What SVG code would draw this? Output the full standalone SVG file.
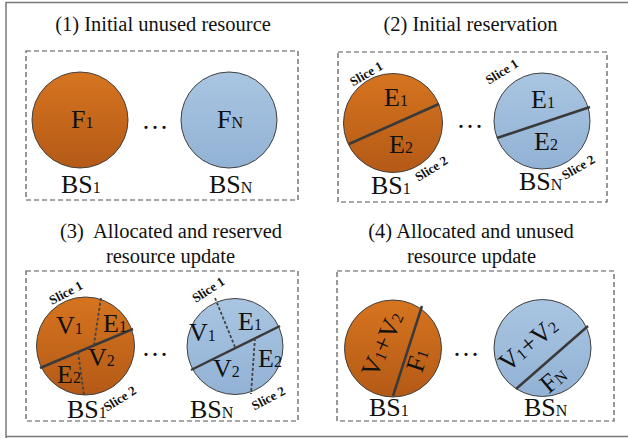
<svg xmlns="http://www.w3.org/2000/svg" width="628" height="438" viewBox="0 0 628 438">
<defs>
<linearGradient id="gO" x1="0" y1="0" x2="0" y2="1"><stop offset="0" stop-color="#D6741F"/><stop offset="1" stop-color="#B45A17"/></linearGradient>
<linearGradient id="gB" x1="0" y1="0" x2="0" y2="1"><stop offset="0" stop-color="#A9C5E1"/><stop offset="1" stop-color="#92B2D5"/></linearGradient>
<style>
text{fill:#111}
.t{font-size:20.5px;text-anchor:middle}
.l{font-size:26px}
.s{font-size:16px}
.sl{font-size:13px;font-weight:bold;text-anchor:middle}
.d{font-size:27px;text-anchor:middle}
.box{fill:none;stroke:#555;stroke-width:1.2;stroke-dasharray:5,3}
.o{fill:url(#gO);stroke:#404040;stroke-width:1}
.b{fill:url(#gB);stroke:#404040;stroke-width:1}
.div{stroke:#3a3a3a;stroke-width:2.5;fill:none}
.dash{stroke:#444;stroke-width:1.8;stroke-dasharray:3,2;fill:none}
</style>
</defs>
<rect width="628" height="438" fill="#fff"/>
<path d="M6 440 V2.5 H630" fill="none" stroke="#7a7a7a" stroke-width="1.5"/>
<path d="M6 436.5 H630" fill="none" stroke="#7a7a7a" stroke-width="1.5"/>
<g font-family="Liberation Serif, Times New Roman, serif">
<!-- Panel 1 -->
<g id="panel1">
<text class="t" x="163" y="31">(1) Initial unused resource</text>
<rect class="box" x="26" y="51" width="272" height="149"/>
<g id="p1-bs1">
<circle class="o" cx="80" cy="120" r="48"/>
<text class="l" x="71" y="128">F<tspan class="s">1</tspan></text>
<text class="l" x="61" y="193">BS<tspan class="s">1</tspan></text>
</g>
<text class="d" x="155" y="129">…</text>
<g id="p1-bsn">
<circle class="b" cx="229" cy="120" r="48"/>
<text class="l" x="217" y="128">F<tspan class="s">N</tspan></text>
<text class="l" x="209" y="193">BS<tspan class="s">N</tspan></text>
</g>
</g>

<!-- Panel 2 -->
<g id="panel2">
<text class="t" x="470.5" y="31">(2) Initial reservation</text>
<rect class="box" x="338" y="52" width="269" height="150"/>
<g id="p2-bs1">
<circle class="o" cx="393" cy="123" r="49.5"/>
<line class="div" x1="349" y1="144" x2="439" y2="104"/>
<text class="l" x="384" y="106">E<tspan class="s">1</tspan></text>
<text class="l" x="389" y="153">E<tspan class="s">2</tspan></text>
<text class="l" x="371" y="194">BS<tspan class="s">1</tspan></text>
<text class="sl" transform="translate(366.5,74) rotate(-30)" y="4">Slice 1</text>
<text class="sl" transform="translate(431.5,169) rotate(-32)" y="4">Slice 2</text>
</g>
<text class="d" x="470" y="128">…</text>
<g id="p2-bsn">
<circle class="b" cx="542" cy="121" r="48"/>
<line class="div" x1="497" y1="138" x2="590" y2="107"/>
<text class="l" x="531" y="108">E<tspan class="s">1</tspan></text>
<text class="l" x="534" y="150">E<tspan class="s">2</tspan></text>
<text class="l" x="519" y="190">BS<tspan class="s">N</tspan></text>
<text class="sl" transform="translate(502,72) rotate(-32)" y="4">Slice 1</text>
<text class="sl" transform="translate(578.5,167.5) rotate(-30)" y="4">Slice 2</text>
</g>
</g>

<!-- Panel 3 -->
<g id="panel3">
<text class="t" x="171" y="238" xml:space="preserve">(3)  Allocated and reserved</text>
<text class="t" x="170.5" y="263">resource update</text>
<rect class="box" x="26" y="271" width="272" height="150"/>
<g id="p3-bs1">
<circle class="o" cx="85.5" cy="346" r="49"/>
<line class="div" x1="40" y1="368" x2="133" y2="329"/>
<line class="dash" x1="101" y1="298" x2="94" y2="344"/>
<line class="dash" x1="78" y1="352" x2="84" y2="395"/>
<text class="l" x="56" y="334">V<tspan class="s">1</tspan></text>
<text class="l" x="103" y="332">E<tspan class="s">1</tspan></text>
<text class="l" x="88" y="366">V<tspan class="s">2</tspan></text>
<text class="l" x="57" y="383">E<tspan class="s">2</tspan></text>
<text class="l" x="67" y="418">BS<tspan class="s">1</tspan></text>
<text class="sl" transform="translate(66,293) rotate(-28)" y="4">Slice 1</text>
<text class="sl" transform="translate(120,399) rotate(-32)" y="4">Slice 2</text>
</g>
<text class="d" x="155" y="356">…</text>
<g id="p3-bsn">
<circle class="b" cx="235" cy="346.5" r="48"/>
<line class="div" x1="191" y1="370" x2="280" y2="326"/>
<line class="dash" x1="215" y1="298" x2="235" y2="347"/>
<line class="dash" x1="255" y1="338" x2="251" y2="394"/>
<text class="l" x="189" y="341">V<tspan class="s">1</tspan></text>
<text class="l" x="238" y="330">E<tspan class="s">1</tspan></text>
<text class="l" x="213" y="377">V<tspan class="s">2</tspan></text>
<text class="l" x="258" y="367">E<tspan class="s">2</tspan></text>
<text class="l" x="190" y="418">BS<tspan class="s">N</tspan></text>
<text class="sl" transform="translate(208.5,290) rotate(-33)" y="4">Slice 1</text>
<text class="sl" transform="translate(268.5,398.5) rotate(-28)" y="4">Slice 2</text>
</g>
</g>

<!-- Panel 4 -->
<g id="panel4">
<text class="t" x="471" y="238">(4) Allocated and unused</text>
<text class="t" x="471.5" y="263">resource update</text>
<rect class="box" x="337" y="271" width="277" height="150"/>
<g id="p4-bs1">
<circle class="o" cx="393" cy="348.5" r="48.5"/>
<line class="div" x1="422" y1="306" x2="393" y2="396"/>
<text class="l" transform="translate(382,344) rotate(-66)" y="9" text-anchor="middle">V<tspan class="s">1</tspan>+V<tspan class="s">2</tspan></text>
<text class="l" transform="translate(417,360) rotate(-72)" y="9" text-anchor="middle">F<tspan class="s">1</tspan></text>
<text class="l" x="369" y="416">BS<tspan class="s">1</tspan></text>
</g>
<text class="d" x="466" y="356">…</text>
<g id="p4-bsn">
<circle class="b" cx="542.5" cy="348" r="48.5"/>
<line class="div" x1="516" y1="389" x2="588" y2="326"/>
<text class="l" transform="translate(528,344) rotate(-40)" y="9" text-anchor="middle">V<tspan class="s">1</tspan>+V<tspan class="s">2</tspan></text>
<text class="l" transform="translate(553,379) rotate(-40)" y="9" text-anchor="middle">F<tspan class="s">N</tspan></text>
<text class="l" x="524" y="416">BS<tspan class="s">N</tspan></text>
</g>
</g>
</g>
<g id="connectors"/>
</svg>
